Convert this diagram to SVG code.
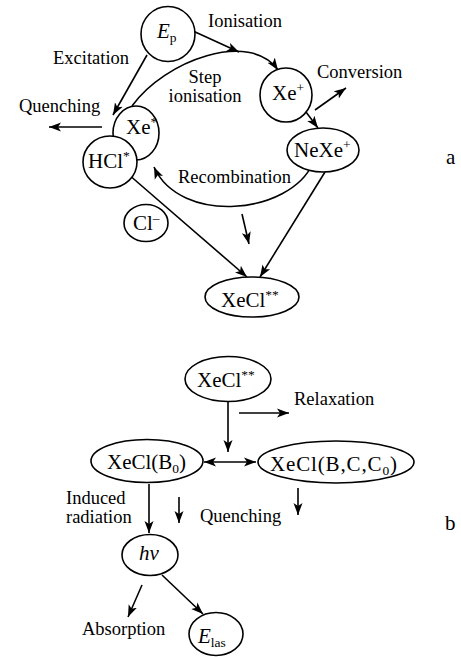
<svg xmlns="http://www.w3.org/2000/svg" width="461" height="657" viewBox="0 0 461 657" font-family="'Liberation Serif', 'Times New Roman', serif">
<defs>
<marker id="ah" markerUnits="userSpaceOnUse" markerWidth="13" markerHeight="10" refX="12" refY="4.5" orient="auto-start-reverse" viewBox="0 0 13 9">
<path d="M0,0 L12,4.5 L0,9 L3,4.5 z" fill="#000"/>
</marker>
</defs>
<style>
.n{fill:#fff;stroke:#000;stroke-width:1.6}
.c{fill:none;stroke:#000;stroke-width:1.6}
.a{marker-end:url(#ah)}
text{font-family:"Liberation Serif","Times New Roman",serif;fill:#000}
.l{font-size:18.5px}
.t{font-size:21px}
.s{font-size:13.5px}
.i{font-style:italic}
</style>
<rect width="461" height="657" fill="#fff"/>

<g id="connectors">
<path class="c a" d="M193,31 L239,52"/>
<path class="c a" d="M132,106 C165,60 250,30 278,70"/>
<path class="c a" d="M147,55 L113,115"/>
<path class="c a" d="M102,127 L49,127"/>
<path class="c a" d="M315,110 L346,88"/>
<path class="c a" d="M306,112 L318,128"/>
<path class="c a" d="M313,163 C290,215 180,225 154,167"/>
<path class="c a" d="M128,174 L247,277"/>
<path class="c a" d="M325,172 L260,277"/>
<path class="c a" d="M242,214 L249,244"/>
<path class="c a" d="M228,402 L228,452"/>
<path class="c a" d="M239,413 L289,413"/>
<path class="c a" d="M204,462 L256,462" marker-start="url(#ah)"/>
<path class="c a" d="M298,488 L298,515"/>
<path class="c a" d="M179,497 L179,523"/>
<path class="c a" d="M149,484 L149,533"/>
<path class="c a" d="M142,585 L128,617"/>
<path class="c a" d="M162,575 L203,614"/>
</g>

<g id="labels">
<text class="l" x="208" y="27">Ionisation</text>
<text class="l" x="53" y="64">Excitation</text>
<text class="l" x="19" y="112">Quenching</text>
<text class="l" x="205" y="83" text-anchor="middle">Step</text>
<text class="l" x="205" y="102" text-anchor="middle">ionisation</text>
<text class="l" x="317" y="78">Conversion</text>
<text class="l" x="178" y="183">Recombination</text>
<text class="t" x="446" y="164">a</text>
<text class="l" x="294" y="405">Relaxation</text>
<text class="l" x="66" y="504">Induced</text>
<text class="l" x="66" y="523">radiation</text>
<text class="l" x="200" y="522">Quenching</text>
<text class="l" x="82" y="635">Absorption</text>
<text class="t" x="445" y="530">b</text>
</g>

<g id="Ep">
<ellipse class="n" cx="168" cy="34" rx="27" ry="27.5"/>
<text class="t" x="157" y="38"><tspan class="i">E</tspan><tspan class="s" dy="4">p</tspan></text>
</g>
<g id="XeStar">
<ellipse class="n" cx="136" cy="133" rx="23" ry="27"/>
<text class="t" x="126" y="134">Xe<tspan class="s" dy="-8">*</tspan></text>
</g>
<g id="HClStar">
<ellipse class="n" cx="110" cy="162" rx="27" ry="26"/>
<text class="t" x="88" y="168">HCl<tspan class="s" dy="-8">*</tspan></text>
</g>
<g id="XePlus">
<ellipse class="n" cx="286" cy="95" rx="26" ry="27"/>
<text class="t" x="272" y="100">Xe<tspan class="s" dy="-8">+</tspan></text>
</g>
<g id="NeXePlus">
<ellipse class="n" cx="323" cy="150" rx="36" ry="22"/>
<text class="t" x="294" y="157">NeXe<tspan class="s" dy="-8">+</tspan></text>
</g>
<g id="ClMinus">
<ellipse class="n" cx="146" cy="223" rx="22" ry="18.5"/>
<text class="t" x="133" y="230">Cl<tspan class="s" dy="-8">–</tspan></text>
</g>
<g id="XeCl2a">
<ellipse class="n" cx="252" cy="297" rx="47" ry="20"/>
<text class="t" x="221" y="307">XeCl<tspan class="s" dy="-8">**</tspan></text>
</g>
<g id="XeCl2b">
<ellipse class="n" cx="228" cy="379" rx="43" ry="22.5"/>
<text class="t" x="197" y="387">XeCl<tspan class="s" dy="-8">**</tspan></text>
</g>
<g id="XeClB0">
<ellipse class="n" cx="147" cy="461" rx="56" ry="21.5"/>
<text class="t" x="107" y="469">XeCl(B<tspan class="s" dy="4">0</tspan><tspan dy="-4">)</tspan></text>
</g>
<g id="XeClBCC0">
<ellipse class="n" cx="336" cy="462" rx="78" ry="21"/>
<text class="t" x="270" y="471" textLength="127" lengthAdjust="spacing">XeCl(B,C,C<tspan class="s" dy="4">0</tspan><tspan dy="-4">)</tspan></text>
</g>
<g id="hv">
<ellipse class="n" cx="150" cy="555" rx="28" ry="20.5"/>
<text class="t i" x="139" y="560">hν</text>
</g>
<g id="Elas">
<ellipse class="n" cx="216" cy="634" rx="27" ry="21.5"/>
<text class="t" x="198" y="643"><tspan class="i">E</tspan><tspan class="s" dy="4">las</tspan></text>
</g>
</svg>
